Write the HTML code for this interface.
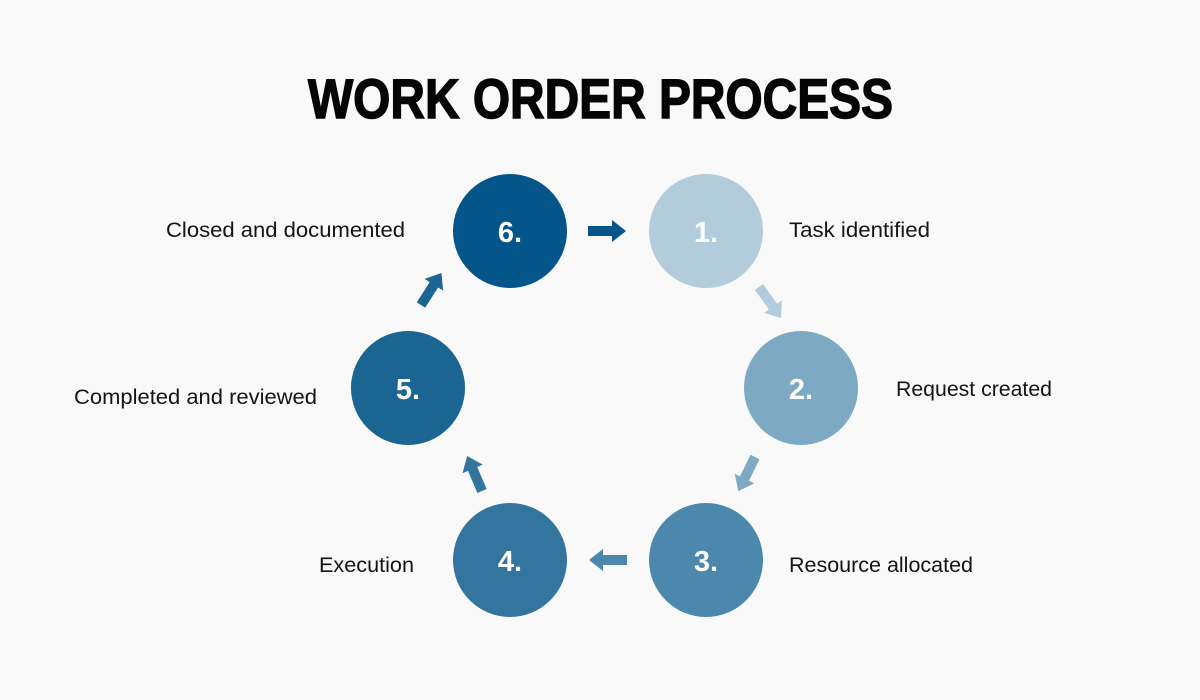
<!DOCTYPE html>
<html>
<head>
<meta charset="utf-8">
<style>
  html,body{margin:0;padding:0;background:#f9f9f9;}
  svg{display:block;}
  .lbl{font-family:"Liberation Sans",Arial,sans-serif;font-size:21px;fill:#141414;}
  .num{font-family:"Liberation Sans",Arial,sans-serif;font-size:29px;font-weight:bold;fill:#ffffff;text-anchor:middle;}
</style>
</head>
<body>
<svg width="1200" height="700" viewBox="0 0 1200 700" xmlns="http://www.w3.org/2000/svg">
  <rect width="1200" height="700" fill="#f9f9f9"/>
  <g transform="translate(0,118) scale(1,1.12)">
    <text x="308" y="0" textLength="585" lengthAdjust="spacingAndGlyphs" font-family="Liberation Sans, Arial, sans-serif" font-weight="bold" font-size="50" fill="#050505" stroke="#050505" stroke-width="1.3">WORK ORDER PROCESS</text>
  </g>

  <!-- circles -->
  <circle cx="510" cy="231" r="57" fill="#03558a"/>
  <circle cx="706" cy="231" r="57" fill="#b3ccdb"/>
  <circle cx="801" cy="388" r="57" fill="#7ea9c3"/>
  <circle cx="706" cy="560" r="57" fill="#4c88ad"/>
  <circle cx="510" cy="560" r="57" fill="#34759f"/>
  <circle cx="408" cy="388" r="57" fill="#1b6592"/>

  <text class="num" x="510" y="242">6.</text>
  <text class="num" x="706" y="242">1.</text>
  <text class="num" x="801" y="399">2.</text>
  <text class="num" x="706" y="571">3.</text>
  <text class="num" x="510" y="571">4.</text>
  <text class="num" x="408" y="399">5.</text>

  <!-- arrows: local shape pointing right, tail at 0 -->
  <defs>
    <polygon id="arr" points="0,-5 24,-5 24,-11 38,0 24,11 24,5 0,5"/>
  </defs>
  <use href="#arr" fill="#03558a" transform="translate(588,231)"/>
  <use href="#arr" fill="#b3ccdb" transform="translate(759,287) rotate(54.6)"/>
  <use href="#arr" fill="#7ea9c3" transform="translate(755,457) rotate(116)"/>
  <use href="#arr" fill="#4c88ad" transform="translate(627,560) rotate(180)"/>
  <use href="#arr" fill="#34759f" transform="translate(482,491) rotate(-113)"/>
  <use href="#arr" fill="#1b6592" transform="translate(421,305) rotate(-57.5)"/>

  <!-- labels -->
  <text class="lbl" x="166" y="237" textLength="239" lengthAdjust="spacingAndGlyphs">Closed and documented</text>
  <text class="lbl" x="789" y="237" textLength="141" lengthAdjust="spacingAndGlyphs">Task identified</text>
  <text class="lbl" x="896" y="396" textLength="156" lengthAdjust="spacingAndGlyphs">Request created</text>
  <text class="lbl" x="74" y="404" textLength="243" lengthAdjust="spacingAndGlyphs">Completed and reviewed</text>
  <text class="lbl" x="319" y="572" textLength="95" lengthAdjust="spacingAndGlyphs">Execution</text>
  <text class="lbl" x="789" y="572" textLength="184" lengthAdjust="spacingAndGlyphs">Resource allocated</text>
</svg>
</body>
</html>
